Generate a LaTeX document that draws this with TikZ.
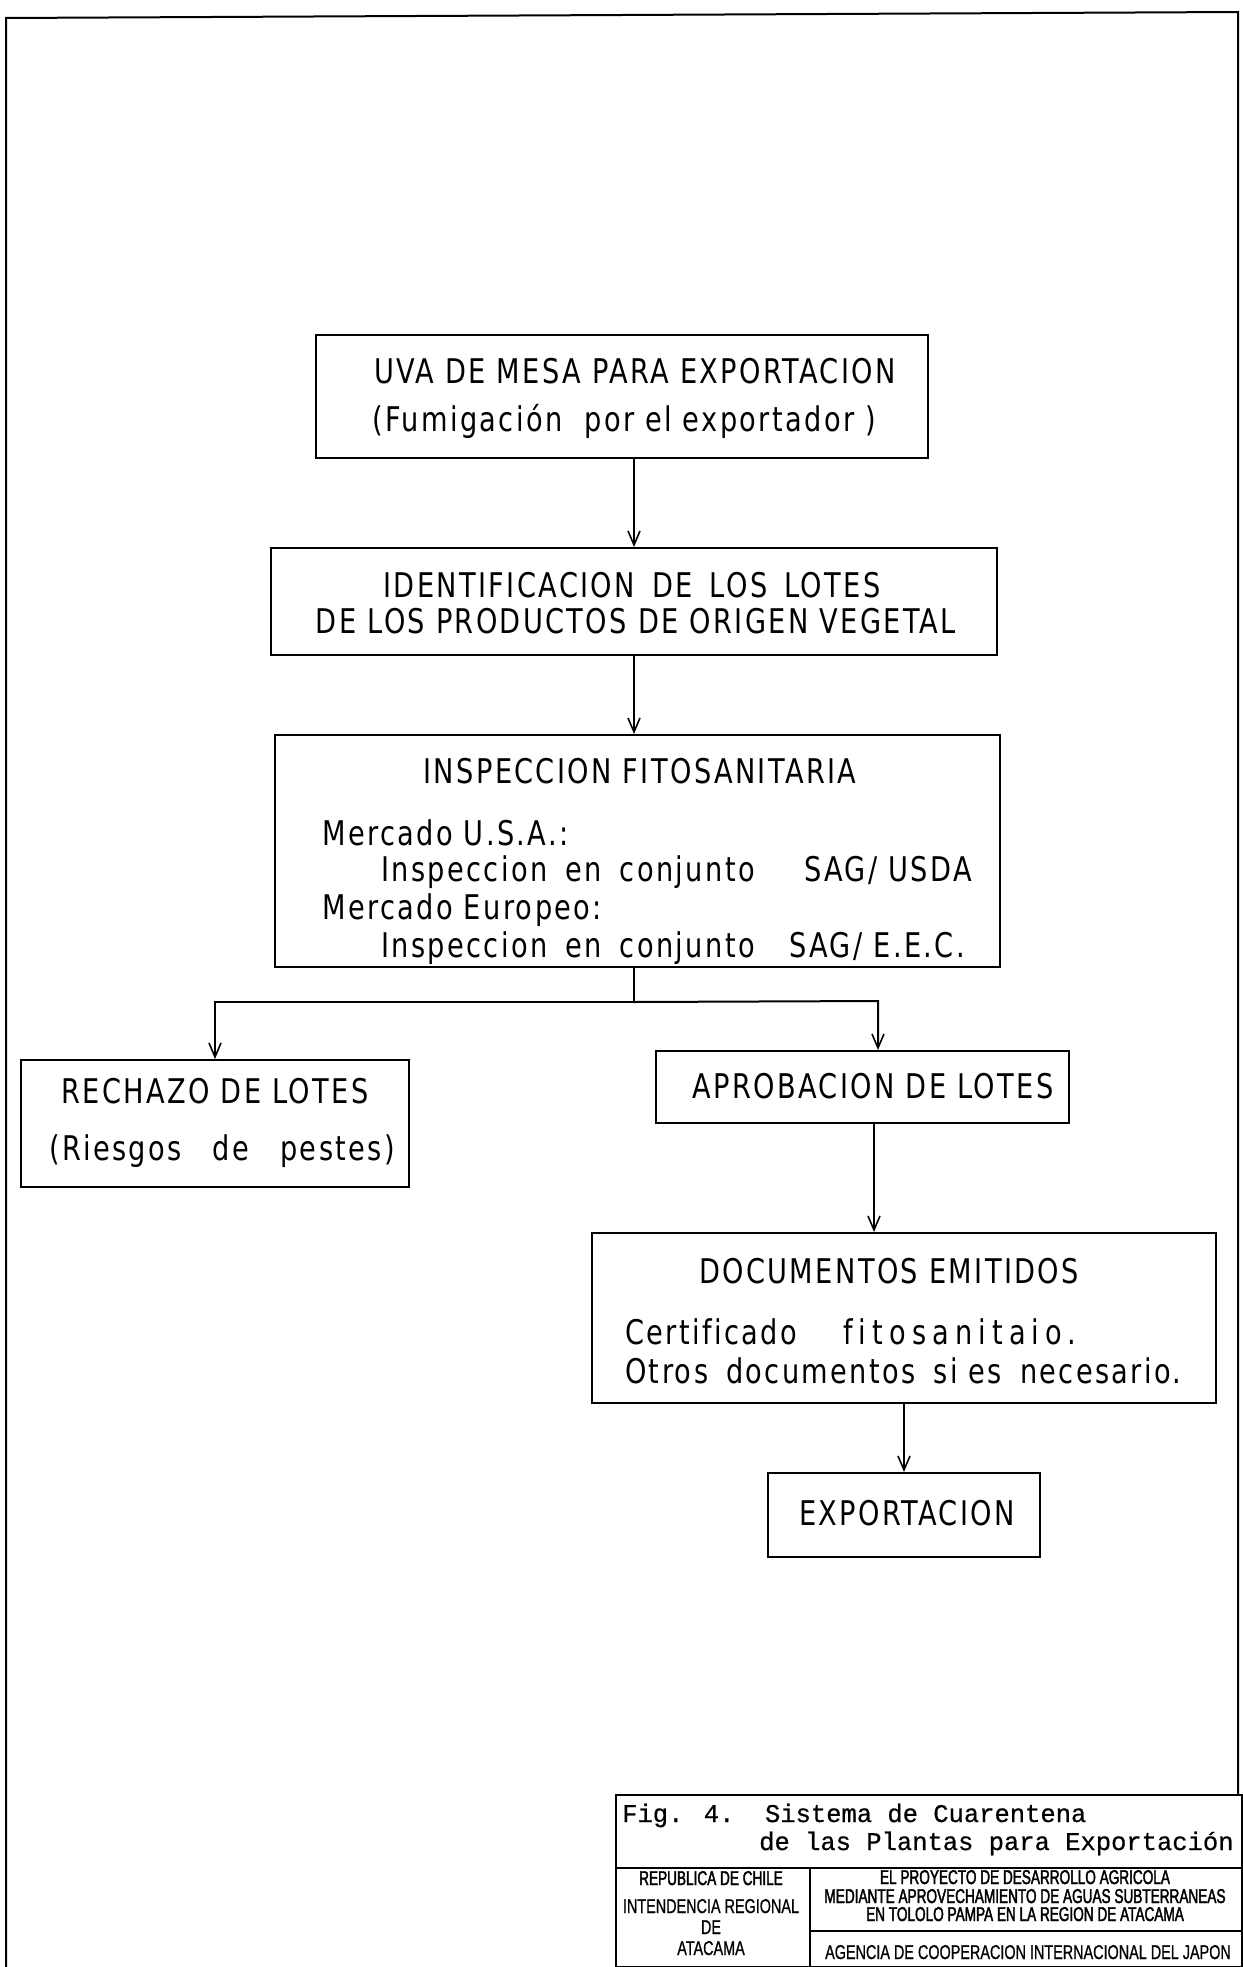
\documentclass[tikz,border=0pt]{standalone}
\usepackage{fontspec}
\usetikzlibrary{arrows.meta}
\newfontfamily\lett[FakeStretch=0.8,LetterSpace=7,Ligatures=NoCommon]{DejaVu Sans}
\newfontfamily\lettwide[FakeStretch=0.8,LetterSpace=18,Ligatures=NoCommon]{DejaVu Sans}
\newfontfamily\typew[FakeBold=0.6]{Liberation Mono}
\newfontfamily\condb[FakeStretch=0.68,FakeBold=2]{Liberation Sans}
\newfontfamily\condr[FakeStretch=0.72,FakeBold=0.8]{Liberation Sans}
\begin{document}
\begin{tikzpicture}[x=1pt,y=-1pt,
  box/.style={draw,line width=2pt,inner sep=0pt},
  txt/.style={inner sep=0pt,font=\lett\fontsize{34}{40}\selectfont},
  arr/.style={line width=2pt,-{Straight Barb[length=14pt,width=12pt,line width=1.6pt]}},
  ln/.style={line width=2pt},
  tb/.style={line width=2.4pt},
  tw/.style={inner sep=0pt,anchor=base west,font=\typew\fontsize{25.5}{30}\selectfont},
  sb/.style={inner sep=0pt,anchor=base,font=\condb\fontsize{20}{22}\selectfont},
  sr/.style={inner sep=0pt,anchor=base,font=\condr\fontsize{20}{22}\selectfont}]
\useasboundingbox (0,0) rectangle (1242,1967);
% page frame
\draw[ln] (6,1967) -- (6,18) -- (1238,12) -- (1238,1795);
% boxes
\node[box,minimum width=612pt,minimum height=123pt] (b1) at (622,396.5) {};
\node[box,minimum width=726pt,minimum height=107pt] (b2) at (634,601.5) {};
\node[box,minimum width=725pt,minimum height=232pt] (b3) at (637.5,851) {};
\node[box,minimum width=388pt,minimum height=127pt] (rech) at (215,1123.5) {};
\node[box,minimum width=413pt,minimum height=72pt] (apr) at (862.5,1087) {};
\node[box,minimum width=624pt,minimum height=170pt] (docs) at (904,1318) {};
\node[box,minimum width=272pt,minimum height=84pt] (exp) at (904,1515) {};
% texts
\node[txt,anchor=base] (t11) at (635,383) {UVA DE MESA PARA EXPORTACION};
\node[txt,anchor=base] (t12) at (624,431) {(Fumigación \ por el exportador )};
\node[txt,anchor=base] (t21) at (632,597) {IDENTIFICACION\hspace{6pt} DE\hspace{6pt} LOS\hspace{6pt} LOTES};
\node[txt,anchor=base] (t22) at (636,633) {DE LOS PRODUCTOS DE ORIGEN VEGETAL};
\node[txt,anchor=base] (t31) at (640,783) {INSPECCION FITOSANITARIA};
\node[txt,anchor=base west] (t32) at (322,845) {Mercado U.S.A.:};
\node[txt,anchor=base west] (t33) at (381,881) {Inspeccion\hspace{7pt} en\hspace{7pt} conjunto};
\node[txt,anchor=base west] (t33b) at (804,881) {SAG/ USDA};
\node[txt,anchor=base west] (t34) at (322,919) {Mercado Europeo:};
\node[txt,anchor=base west] (t35) at (381,957) {Inspeccion\hspace{7pt} en\hspace{7pt} conjunto};
\node[txt,anchor=base west] (t35b) at (789,957) {SAG/ E.E.C.};
\node[txt,anchor=base] (r1) at (215,1103) {RECHAZO DE LOTES};
\node[txt,anchor=base] (r2) at (222,1160) {(Riesgos\hspace{20pt} de\hspace{20pt} pestes)};
\node[txt,anchor=base] (a1) at (873,1098) {APROBACION DE LOTES};
\node[txt,anchor=base] (d1) at (889,1283) {DOCUMENTOS EMITIDOS};
\node[txt,anchor=base west] (d2) at (625,1344) {Certificado};
\node[inner sep=0pt,anchor=base west,font=\lettwide\fontsize{34}{40}\selectfont] (d2b) at (843,1344) {fitosanitaio.};
\node[txt,anchor=base west] (d3) at (625,1383) {Otros\hspace{7pt} documentos\hspace{7pt} si es\hspace{7pt} necesario.};
\node[txt,anchor=base] (e1) at (907,1525) {EXPORTACION};
% connectors
\draw[arr] (b1.south -| b2.north) -- (b2.north);
\draw[arr] (b2.south) -- (b2.south |- b3.north);
\path (b2.south) ++(0,346) coordinate (split);
\draw[ln] (b2.south |- b3.south) -- (split);
\draw[arr] (split) -| (rech.north);
\coordinate (aprin) at (878,1001);
\draw[arr] (split) -- (aprin) -- (aprin |- apr.north);
\coordinate (aprout) at (874,1123);
\draw[arr] (aprout) -- (aprout |- docs.north);
\draw[arr] (docs.south) -- (exp.north);
% title block
\node[draw,tb,inner sep=0pt,minimum width=626pt,minimum height=172pt] (tblk) at (929,1881) {};
\coordinate (hl) at (616,1868);
\coordinate (vd) at (810,1868);
\coordinate (hd) at (810,1931);
\draw[tb] (hl) -- (hl -| tblk.east);
\draw[tb] (vd) -- (vd |- tblk.south);
\draw[tb] (hd) -- (hd -| tblk.east);
\node[tw] (f1) at (622,1822) {Fig. 4.\ \ Sistema de Cuarentena};
\node[tw] (f2) at (759,1850) {de las Plantas para Exportación};
\node[sb] (c1) at (711,1885) {REPUBLICA DE CHILE};
\node[sr] (c2) at (711,1913) {INTENDENCIA REGIONAL};
\node[sr] (c3) at (711,1934) {DE};
\node[sr] (c4) at (711,1955) {ATACAMA};
\node[sb] (p1) at (1025,1884) {EL PROYECTO DE DESARROLLO AGRICOLA};
\node[sb] (p2) at (1025,1903) {MEDIANTE APROVECHAMIENTO DE AGUAS SUBTERRANEAS};
\node[sb] (p3) at (1025,1921) {EN TOLOLO PAMPA EN LA REGION DE ATACAMA};
\node[sr] (p4) at (1028,1959) {AGENCIA DE COOPERACION INTERNACIONAL DEL JAPON};
\end{tikzpicture}
\end{document}
